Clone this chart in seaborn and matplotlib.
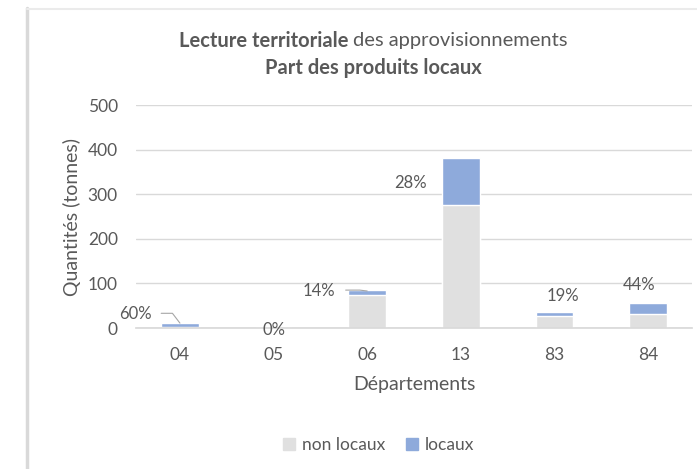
import matplotlib
matplotlib.use("Agg")
import matplotlib.pyplot as plt
import seaborn as sns
from matplotlib.patches import Patch
from matplotlib.lines import Line2D

# data (tonnes)
departements = ["04", "05", "06", "13", "83", "84"]
non_locaux = [2, 0, 73, 275, 28, 31]
locaux = [9, 0, 12, 107, 7, 24]
part_labels = ["60%", "0%", "14%", "28%", "19%", "44%"]

# label placement (x offset in category units, y in tonnes)
label_pos = [(-0.47, 31), (0.0, -4), (-0.52, 83), (-0.54, 325), (0.09, 72), (-0.1, 96)]

totals = [a + b for a, b in zip(non_locaux, locaux)]

GRAY = "#e0e0e0"
BLUE = "#8eaadb"
TXT = "#595959"

sns.set_theme(style="white")
plt.rcParams["font.family"] = ["Lato", "DejaVu Sans"]

fig = plt.figure(figsize=(6.97, 4.69), dpi=100)
ax = fig.add_axes([0.195, 0.3006, 0.798, 0.4755])

sns.barplot(x=departements, y=totals, color=BLUE, width=0.4, ax=ax, saturation=1)
sns.barplot(x=departements, y=non_locaux, color=GRAY, width=0.4, ax=ax, saturation=1)

ax.set_ylim(0, 500)
ax.set_yticks(range(0, 501, 100))
ax.yaxis.grid(True, color="#d9d9d9", linewidth=1)
ax.set_axisbelow(True)
for s in ["top", "right", "left"]:
    ax.spines[s].set_visible(False)
ax.spines["bottom"].set_color("#d9d9d9")
ax.tick_params(axis="both", length=0, labelsize=12.5, labelcolor=TXT)
ax.tick_params(axis="y", pad=13)
ax.tick_params(axis="x", pad=14)
ax.set_xlabel("Départements", fontsize=14, color=TXT, labelpad=9)
ax.set_ylabel("Quantités (tonnes)", fontsize=14, color=TXT, labelpad=5)

for i, (lab, (dx, y)) in enumerate(zip(part_labels, label_pos)):
    ax.text(i + dx, y, lab, ha="center", va="center", fontsize=12, color=TXT)

# leader lines for small bars
ax.plot([-0.2, -0.08, 0.0], [33, 33, totals[0]], color="#a6a6a6", lw=0.8)
ax.plot([1.77, 1.92, 2.0], [85, 85, totals[2] - 2], color="#a6a6a6", lw=0.8)

# title
fig.text(0.500, 0.913, "Lecture territoriale", ha="right", va="center", fontsize=14.5,
         fontweight="bold", color=TXT)
fig.text(0.507, 0.913, "des approvisionnements", ha="left", va="center", fontsize=14.5,
         color=TXT)
fig.text(0.535, 0.855, "Part des produits locaux", ha="center", va="center",
         fontsize=14.5, fontweight="bold", color=TXT)

handles = [Patch(color=GRAY, label="non locaux"), Patch(color=BLUE, label="locaux")]
fig.legend(handles=handles, loc="center", bbox_to_anchor=(0.543, 0.051), ncol=2,
           frameon=False, fontsize=12.5, labelcolor=TXT, handlelength=0.7,
           handleheight=0.7, handletextpad=0.4, columnspacing=1.2)

# chart frame
fig.add_artist(Line2D([0.039, 0.039], [0, 0.983], color="#d9d9d9", lw=2.5,
                      transform=fig.transFigure))
fig.add_artist(Line2D([0.039, 1.0], [0.981, 0.981], color="#ebebeb", lw=1.5,
                      transform=fig.transFigure))

fig.savefig("out.png", dpi=100, facecolor="white")
